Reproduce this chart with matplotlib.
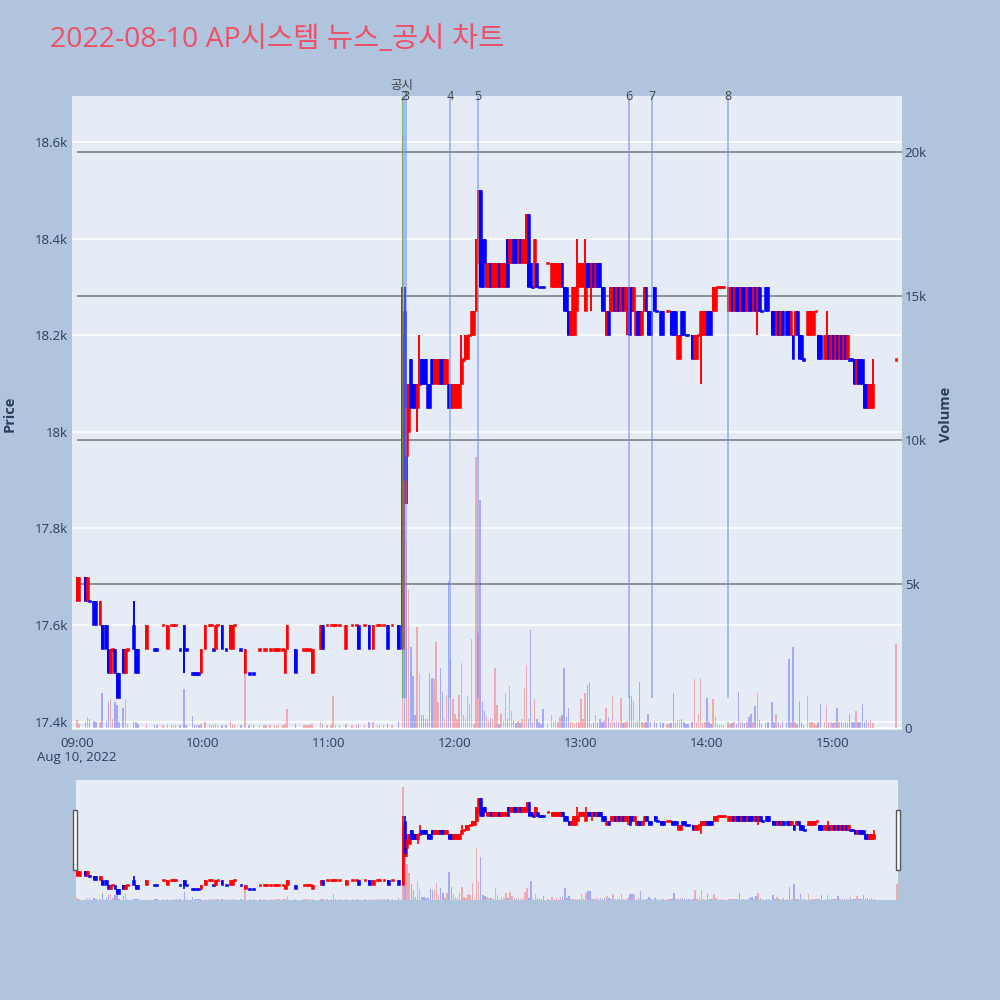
import numpy as np
import matplotlib.pyplot as plt
from matplotlib.patches import Rectangle
from matplotlib.ticker import FuncFormatter
import matplotlib.transforms as mtransforms

plt.rcParams['font.family'] = ['Open Sans', 'Noto Sans CJK KR', 'DejaVu Sans']

# ---- 1-minute candles, minute = minutes after 09:00 ----
am_minute = [0, 1, 4, 5, 6, 8, 9, 11, 12, 14,
             15, 16, 17, 18, 19, 20, 22, 23, 24, 27,
             28, 29, 33, 37, 38, 41, 43, 45, 46, 47,
             49, 51, 52, 55, 56, 57, 58, 59, 61, 63,
             64, 65, 66, 67, 69, 71, 73, 74, 75, 78,
             80, 82, 84, 87, 89, 90, 92, 94, 95, 96,
             98, 99, 100, 104, 108, 109, 110, 111, 112, 116,
             117, 119, 121, 122, 123, 125, 128, 131, 133, 134,
             137, 139, 141, 143, 144, 146, 148, 150, 153]
am_open = [17650, 17650, 17700, 17650, 17650, 17650, 17650, 17600, 17600, 17600,
           17550, 17500, 17550, 17550, 17500, 17500, 17550, 17500, 17550, 17600,
           17550, 17550, 17550, 17550, 17550, 17600, 17550, 17600, 17600, 17600,
           17550, 17600, 17550, 17500, 17500, 17500, 17500, 17500, 17550, 17600,
           17600, 17550, 17550, 17600, 17600, 17550, 17550, 17550, 17600, 17550,
           17500, 17500, 17500, 17550, 17550, 17550, 17550, 17550, 17550, 17550,
           17550, 17500, 17550, 17550, 17550, 17550, 17550, 17550, 17500, 17550,
           17600, 17600, 17600, 17600, 17600, 17600, 17550, 17600, 17600, 17600,
           17600, 17600, 17550, 17600, 17600, 17600, 17600, 17600, 17600]
am_high = [17700, 17700, 17700, 17700, 17650, 17650, 17650, 17650, 17600, 17600,
           17550, 17550, 17550, 17550, 17500, 17500, 17550, 17550, 17550, 17650,
           17550, 17550, 17600, 17550, 17550, 17600, 17600, 17600, 17600, 17600,
           17550, 17600, 17550, 17500, 17500, 17500, 17500, 17550, 17600, 17600,
           17600, 17550, 17600, 17600, 17600, 17550, 17600, 17600, 17600, 17550,
           17550, 17500, 17500, 17550, 17550, 17550, 17550, 17550, 17550, 17550,
           17550, 17550, 17600, 17550, 17550, 17550, 17550, 17550, 17550, 17600,
           17600, 17600, 17600, 17600, 17600, 17600, 17600, 17600, 17600, 17600,
           17600, 17600, 17600, 17600, 17600, 17600, 17600, 17600, 17600]
am_low = [17650, 17650, 17650, 17650, 17650, 17600, 17600, 17600, 17550, 17550,
          17500, 17500, 17550, 17500, 17450, 17450, 17500, 17500, 17550, 17550,
          17500, 17500, 17550, 17550, 17550, 17600, 17550, 17600, 17600, 17600,
          17550, 17500, 17550, 17500, 17500, 17500, 17500, 17500, 17550, 17600,
          17600, 17550, 17550, 17600, 17550, 17550, 17550, 17550, 17600, 17550,
          17500, 17500, 17500, 17550, 17550, 17550, 17550, 17550, 17550, 17550,
          17550, 17500, 17550, 17500, 17550, 17550, 17550, 17550, 17500, 17550,
          17550, 17600, 17600, 17600, 17600, 17600, 17550, 17600, 17600, 17550,
          17600, 17550, 17550, 17600, 17600, 17600, 17550, 17600, 17550]
am_close = [17700, 17700, 17650, 17700, 17650, 17600, 17600, 17650, 17550, 17550,
            17500, 17550, 17550, 17500, 17450, 17450, 17500, 17550, 17550, 17550,
            17500, 17500, 17600, 17550, 17550, 17600, 17600, 17600, 17600, 17600,
            17550, 17550, 17550, 17500, 17500, 17500, 17500, 17550, 17600, 17600,
            17600, 17550, 17600, 17600, 17550, 17550, 17600, 17600, 17600, 17550,
            17550, 17500, 17500, 17550, 17550, 17550, 17550, 17550, 17550, 17550,
            17550, 17550, 17600, 17500, 17550, 17550, 17550, 17550, 17550, 17600,
            17550, 17600, 17600, 17600, 17600, 17600, 17600, 17600, 17600, 17550,
            17600, 17550, 17600, 17600, 17600, 17600, 17550, 17600, 17550]
am_volume = [280, 150, 200, 380, 300, 250, 200, 200, 1200, 250,
             900, 1000, 300, 900, 800, 200, 700, 1000, 150, 200,
             200, 150, 150, 100, 100, 100, 150, 100, 100, 100,
             100, 1350, 120, 400, 100, 100, 100, 150, 200, 100,
             100, 100, 150, 100, 120, 100, 200, 150, 100, 100,
             2000, 100, 100, 100, 100, 100, 100, 100, 100, 100,
             100, 150, 650, 150, 100, 100, 100, 100, 150, 200,
             150, 100, 100, 1100, 100, 100, 150, 100, 100, 150,
             100, 200, 200, 100, 100, 100, 150, 100, 250]

mid_minute = [155, 156, 157, 158, 159, 160, 161, 162, 163, 164,
              165, 166, 167, 168, 169, 170, 171, 172, 173, 174,
              175, 176, 177, 178, 179, 180, 181, 182, 183, 184,
              185, 186, 187, 188, 189, 190, 191, 192, 193, 194,
              195, 196, 197, 198, 199, 200, 201, 202, 203, 204,
              205, 206, 207, 208, 209, 210, 211, 212, 213, 214,
              215, 216, 217, 218, 219, 220, 221, 222, 224, 226,
              227, 228, 229, 230, 231, 232, 233, 234, 235, 236,
              237, 238, 239, 240, 241, 242, 243, 244]
mid_open = [17550, 18250, 17950, 18000, 18150, 18100, 18100, 18050, 18100, 18150,
            18150, 18150, 18100, 18100, 18150, 18100, 18100, 18100, 18150, 18150,
            18100, 18100, 18100, 18100, 18050, 18050, 18050, 18050, 18100, 18150,
            18150, 18150, 18200, 18200, 18200, 18250, 18350, 18500, 18400, 18400,
            18300, 18300, 18350, 18300, 18300, 18300, 18350, 18300, 18300, 18300,
            18400, 18350, 18350, 18400, 18400, 18350, 18400, 18350, 18350, 18350,
            18450, 18350, 18300, 18300, 18350, 18300, 18300, 18300, 18350, 18300,
            18300, 18300, 18300, 18300, 18350, 18300, 18300, 18250, 18200, 18200,
            18200, 18250, 18300, 18300, 18300, 18250, 18350, 18350]
mid_high = [18300, 18300, 18100, 18100, 18150, 18100, 18100, 18100, 18200, 18150,
            18150, 18150, 18100, 18100, 18150, 18150, 18150, 18150, 18150, 18150,
            18150, 18150, 18100, 18100, 18100, 18100, 18100, 18100, 18200, 18150,
            18200, 18200, 18200, 18250, 18250, 18400, 18500, 18500, 18400, 18400,
            18350, 18350, 18350, 18350, 18350, 18350, 18350, 18350, 18350, 18350,
            18400, 18400, 18400, 18400, 18400, 18400, 18400, 18400, 18400, 18450,
            18450, 18350, 18300, 18400, 18350, 18300, 18300, 18300, 18350, 18350,
            18350, 18350, 18350, 18350, 18350, 18300, 18300, 18250, 18250, 18300,
            18300, 18400, 18350, 18350, 18350, 18400, 18350, 18350]
mid_low = [17550, 17850, 17850, 18000, 18050, 18050, 18050, 18000, 18100, 18100,
           18100, 18100, 18050, 18050, 18100, 18100, 18100, 18100, 18100, 18100,
           18100, 18100, 18050, 18050, 18050, 18050, 18050, 18050, 18100, 18150,
           18150, 18150, 18200, 18200, 18200, 18250, 18350, 18300, 18300, 18350,
           18300, 18300, 18300, 18300, 18300, 18300, 18300, 18300, 18300, 18300,
           18300, 18350, 18350, 18350, 18350, 18350, 18350, 18350, 18350, 18350,
           18300, 18300, 18300, 18300, 18300, 18300, 18300, 18300, 18350, 18300,
           18300, 18300, 18300, 18300, 18300, 18250, 18250, 18200, 18200, 18200,
           18200, 18250, 18300, 18300, 18300, 18250, 18300, 18300]
mid_close = [18200, 17900, 18050, 18100, 18050, 18050, 18050, 18100, 18100, 18100,
             18100, 18100, 18050, 18050, 18100, 18150, 18150, 18150, 18100, 18100,
             18150, 18150, 18050, 18050, 18100, 18100, 18100, 18100, 18150, 18150,
             18200, 18200, 18200, 18250, 18250, 18400, 18500, 18300, 18300, 18350,
             18350, 18350, 18300, 18350, 18350, 18350, 18300, 18350, 18350, 18350,
             18300, 18400, 18400, 18350, 18350, 18400, 18350, 18400, 18400, 18450,
             18300, 18300, 18300, 18400, 18300, 18300, 18300, 18300, 18350, 18350,
             18350, 18350, 18350, 18350, 18300, 18250, 18250, 18200, 18250, 18300,
             18300, 18300, 18350, 18350, 18350, 18300, 18300, 18300]
mid_volume = [20600, 7800, 6500, 4800, 2800, 1800, 450, 3500, 1900, 450,
              450, 300, 300, 1900, 1750, 1700, 3000, 900, 2100, 1250,
              300, 1150, 5100, 2400, 1000, 500, 300, 1150, 2250, 450,
              300, 1100, 850, 3100, 150, 9400, 3300, 7900, 900, 600,
              400, 250, 350, 300, 2100, 800, 150, 500, 250, 1200,
              300, 1450, 600, 250, 180, 250, 170, 300, 1400, 2200,
              300, 3400, 200, 1000, 300, 200, 150, 650, 150, 450,
              200, 250, 200, 380, 450, 2100, 380, 700, 200, 200,
              150, 200, 200, 1000, 300, 1200, 1500, 1600]

pm_minute = [245, 246, 247, 248, 249, 250, 251, 252, 253, 254,
             255, 256, 257, 258, 259, 260, 261, 262, 263, 264,
             265, 266, 267, 268, 269, 270, 271, 272, 273, 275,
             276, 278, 279, 281, 282, 283, 284, 285, 286, 287,
             288, 289, 290, 291, 293, 294, 295, 296, 297, 298,
             299, 300, 301, 302, 303, 304, 305, 306, 307, 308,
             310, 311, 312, 313, 314, 315, 316, 317, 318, 319,
             320, 321, 322, 323, 324, 325, 326, 328, 329, 331,
             332, 333, 334, 335, 336, 338, 339, 340, 341, 342,
             343, 344, 345, 346, 348, 349, 350, 351, 352, 353,
             354, 356, 357, 358, 359, 360, 361, 362, 363, 364,
             365, 366, 367, 368, 369, 370, 371, 372, 373, 374,
             375, 376, 377, 378, 379, 390]
pm_open = [18300, 18350, 18300, 18350, 18350, 18300, 18300, 18200, 18250, 18250,
           18250, 18300, 18250, 18300, 18250, 18300, 18250, 18250, 18300, 18300,
           18250, 18200, 18250, 18250, 18200, 18250, 18300, 18250, 18250, 18300,
           18250, 18250, 18250, 18250, 18250, 18250, 18250, 18250, 18150, 18150,
           18250, 18250, 18200, 18200, 18200, 18150, 18150, 18200, 18200, 18200,
           18200, 18250, 18250, 18250, 18250, 18250, 18300, 18300, 18300, 18300,
           18250, 18250, 18300, 18250, 18300, 18300, 18250, 18300, 18300, 18250,
           18300, 18300, 18250, 18300, 18250, 18300, 18250, 18300, 18300, 18250,
           18250, 18200, 18250, 18200, 18250, 18250, 18250, 18200, 18200, 18200,
           18250, 18200, 18200, 18150, 18200, 18200, 18200, 18200, 18250, 18200,
           18200, 18150, 18150, 18200, 18150, 18200, 18150, 18200, 18150, 18200,
           18150, 18200, 18150, 18150, 18150, 18150, 18100, 18150, 18150, 18150,
           18100, 18100, 18050, 18050, 18050, 18150]
pm_high = [18350, 18350, 18350, 18350, 18350, 18300, 18300, 18250, 18250, 18300,
           18300, 18300, 18300, 18300, 18300, 18300, 18300, 18300, 18300, 18300,
           18300, 18250, 18250, 18250, 18250, 18300, 18300, 18250, 18250, 18300,
           18250, 18250, 18250, 18250, 18250, 18250, 18250, 18250, 18200, 18200,
           18250, 18250, 18200, 18200, 18200, 18200, 18200, 18200, 18250, 18250,
           18250, 18250, 18250, 18250, 18300, 18300, 18300, 18300, 18300, 18300,
           18300, 18300, 18300, 18300, 18300, 18300, 18300, 18300, 18300, 18300,
           18300, 18300, 18300, 18300, 18300, 18300, 18250, 18300, 18300, 18250,
           18250, 18250, 18250, 18250, 18250, 18250, 18250, 18250, 18200, 18250,
           18250, 18200, 18200, 18150, 18250, 18250, 18250, 18250, 18250, 18200,
           18200, 18200, 18250, 18200, 18200, 18200, 18200, 18200, 18200, 18200,
           18200, 18200, 18200, 18150, 18150, 18150, 18150, 18150, 18150, 18150,
           18100, 18100, 18100, 18100, 18150, 18150]
pm_low = [18250, 18300, 18300, 18300, 18300, 18250, 18250, 18200, 18200, 18250,
          18250, 18250, 18250, 18250, 18250, 18250, 18250, 18200, 18200, 18250,
          18250, 18200, 18200, 18200, 18200, 18250, 18250, 18200, 18200, 18250,
          18250, 18200, 18200, 18250, 18250, 18200, 18200, 18200, 18150, 18150,
          18200, 18200, 18200, 18200, 18150, 18150, 18150, 18200, 18100, 18200,
          18200, 18200, 18200, 18200, 18250, 18250, 18300, 18300, 18300, 18300,
          18250, 18250, 18250, 18250, 18250, 18250, 18250, 18250, 18250, 18250,
          18250, 18250, 18250, 18250, 18200, 18250, 18250, 18250, 18250, 18200,
          18200, 18200, 18200, 18200, 18200, 18200, 18200, 18200, 18150, 18200,
          18200, 18150, 18150, 18150, 18200, 18200, 18200, 18200, 18250, 18150,
          18150, 18150, 18150, 18150, 18150, 18150, 18150, 18150, 18150, 18150,
          18150, 18150, 18150, 18150, 18150, 18100, 18100, 18100, 18100, 18100,
          18050, 18050, 18050, 18050, 18050, 18150]
pm_close = [18350, 18300, 18350, 18300, 18300, 18250, 18250, 18250, 18200, 18300,
            18300, 18250, 18300, 18250, 18300, 18250, 18300, 18300, 18200, 18250,
            18300, 18250, 18200, 18200, 18250, 18300, 18250, 18200, 18200, 18250,
            18250, 18200, 18200, 18250, 18250, 18200, 18200, 18200, 18200, 18200,
            18200, 18200, 18200, 18200, 18150, 18200, 18200, 18200, 18250, 18250,
            18250, 18200, 18200, 18200, 18300, 18300, 18300, 18300, 18300, 18300,
            18300, 18300, 18250, 18300, 18250, 18250, 18300, 18250, 18250, 18300,
            18250, 18250, 18300, 18250, 18300, 18250, 18250, 18250, 18250, 18200,
            18200, 18250, 18200, 18250, 18200, 18200, 18200, 18250, 18150, 18250,
            18200, 18150, 18150, 18150, 18250, 18250, 18250, 18250, 18250, 18150,
            18150, 18200, 18200, 18150, 18200, 18150, 18200, 18150, 18200, 18150,
            18200, 18150, 18200, 18150, 18150, 18100, 18150, 18100, 18100, 18100,
            18050, 18050, 18100, 18100, 18100, 18150]
pm_volume = [150, 200, 450, 200, 300, 200, 250, 700, 380, 200,
             1100, 200, 250, 200, 1050, 170, 200, 250, 1100, 1100,
             950, 200, 250, 1600, 200, 170, 200, 500, 200, 250,
             170, 200, 170, 150, 150, 170, 1200, 200, 270, 280,
             300, 200, 150, 150, 200, 1700, 200, 500, 1750, 200,
             200, 1050, 200, 150, 1000, 380, 150, 100, 100, 100,
             200, 150, 170, 200, 150, 1250, 200, 200, 170, 200,
             380, 500, 200, 750, 1200, 280, 150, 170, 200, 900,
             200, 500, 200, 150, 250, 200, 2400, 200, 2800, 200,
             150, 950, 200, 100, 1100, 200, 200, 170, 100, 200,
             850, 200, 800, 200, 200, 170, 200, 700, 200, 200,
             170, 200, 200, 500, 200, 200, 600, 200, 200, 850,
             200, 280, 200, 280, 170, 2900]

# news markers (minutes after 09:00) and labels
news_minute = [154.8, 155.7, 156.5, 177.6, 190.9, 262.9, 273.8, 310.0]
news_label = ["공시", "2", "3", "4", "5", "6", "7", "8"]

hour_ticks = [0, 60, 120, 180, 240, 300, 360]
hour_labels = ["09:00", "10:00", "11:00", "12:00", "13:00", "14:00", "15:00"]

x = np.array(am_minute + mid_minute + pm_minute, dtype=float)
o = np.array(am_open + mid_open + pm_open, dtype=float)
h = np.array(am_high + mid_high + pm_high, dtype=float)
l = np.array(am_low + mid_low + pm_low, dtype=float)
c = np.array(am_close + mid_close + pm_close, dtype=float)
v = np.array(am_volume + mid_volume + pm_volume, dtype=float)

RED = "#FF0000"
BLUE = "#0000FF"
BG = "#B0C4DE"
PLOT_BG = "#E5ECF6"
TXT = "#2a3f5f"

# direction: ties decided by previous close
up = []
prev_c, prev_up = None, True
for oo, cc in zip(o, c):
    if cc > oo:
        d = True
    elif cc < oo:
        d = False
    elif prev_c is None or cc == prev_c:
        d = prev_up
    else:
        d = cc > prev_c
    up.append(d)
    prev_c, prev_up = cc, d
up = np.array(up)
colors = np.where(up, RED, BLUE)

P_LIM = (17383, 18695)
V_LIM = (-69, 21944)


def draw_candles(ax, body_w, wick_lw, min_h):
    ax.vlines(x, l, h, colors=colors, lw=wick_lw, zorder=3)
    height = np.maximum(np.abs(c - o), min_h)
    bottom = np.where(c == o, o - min_h / 2, np.minimum(o, c))
    ax.bar(x, height, width=body_w, bottom=bottom, color=colors,
           edgecolor=colors, linewidth=0.4, zorder=3)


def draw_volume(axv, width):
    axv.bar(x, v, width=width, color=colors, alpha=0.28, linewidth=0)


fig = plt.figure(figsize=(10, 10), dpi=100, facecolor=BG)

# ---- main chart ----
ax_v = fig.add_axes([0.072, 0.270, 0.830, 0.634])
ax = ax_v.twinx()
ax.yaxis.tick_left()
ax.yaxis.set_label_position("left")
ax_v.yaxis.tick_right()
ax_v.yaxis.set_label_position("right")
ax_v.set_facecolor(PLOT_BG)
ax.patch.set_visible(False)

xlim = (-2.38, 392.9)
ax.set_xlim(*xlim)
ax_v.set_xlim(*xlim)
ax.set_ylim(*P_LIM)
ax_v.set_ylim(*V_LIM)

for yv in range(17400, 18601, 200):
    ax_v.axhline(np.interp(yv, P_LIM, V_LIM), color="white", lw=1.2, zorder=0)
ax_v.axhline(0, color="white", lw=1.5, zorder=0)
ax_v.hlines([5000, 10000, 15000, 20000], 0, xlim[1], colors="#8a8a8a", lw=1.3, zorder=1)

draw_volume(ax_v, 0.7)
draw_candles(ax, 1.3, 1.4, 5)

# news lines
for nm, lab in zip(news_minute, news_label):
    col = "#4caf50" if lab == "공시" else "#6f8ff0"
    lw = 0.9 if lab == "공시" else 1.1
    ax.vlines(nm, 17450, P_LIM[1], colors=col, lw=lw, alpha=0.7, zorder=4)
trans = mtransforms.blended_transform_factory(ax.transData, ax.transAxes)
for nm, lab in zip(news_minute, news_label):
    yy = 1.016 if lab == "공시" else 0.999
    ax.text(nm, yy, lab, transform=trans, ha="center", va="center",
            fontsize=9, color="#444444", zorder=6, clip_on=False)

ax.set_yticks(range(17400, 18601, 200))
ax.yaxis.set_major_formatter(FuncFormatter(lambda val, pos: f"{val / 1000:g}k"))
ax_v.set_yticks([0, 5000, 10000, 15000, 20000])
ax_v.yaxis.set_major_formatter(FuncFormatter(lambda val, pos: "0" if val == 0 else f"{val / 1000:g}k"))
ax_v.set_xticks(hour_ticks)
ax_v.set_xticklabels(hour_labels)
ax.tick_params(axis="y", length=0, pad=3, labelsize=9.5, labelcolor=TXT)
ax_v.tick_params(axis="y", length=0, pad=2, labelsize=9.5, labelcolor=TXT)
ax_v.tick_params(axis="x", length=0, pad=5, labelsize=9.5, labelcolor=TXT)
ax.tick_params(axis="x", length=0, labelbottom=False)
for a in (ax, ax_v):
    for s in a.spines.values():
        s.set_visible(False)

fig.text(0.077, 1 - 0.757, "Aug 10, 2022", ha="center", va="center", fontsize=9.5, color=TXT)
fig.text(0.010, 1 - 0.414, "Price", rotation=90, ha="center", va="center",
         fontsize=10.5, fontweight="bold", color=TXT)
fig.text(0.946, 1 - 0.414, "Volume", rotation=90, ha="center", va="center",
         fontsize=10.5, fontweight="bold", color=TXT)
fig.text(0.050, 1 - 0.040, "2022-08-10 AP시스템 뉴스_공시 차트", ha="left", va="center",
         fontsize=20.5, color="#EE5068")

# ---- range slider ----
rs_v = fig.add_axes([0.076, 0.100, 0.822, 0.120])
rs = rs_v.twinx()
rs_v.set_facecolor(PLOT_BG)
rs.patch.set_visible(False)
for a in (rs, rs_v):
    a.set_xlim(-0.5, 390.5)
    a.set_xticks([])
    a.set_yticks([])
    for s in a.spines.values():
        s.set_visible(False)
rs.set_ylim(*P_LIM)
rs_v.set_ylim(*V_LIM)
draw_volume(rs_v, 0.7)
draw_candles(rs, 1.3, 1.2, 22)

for hx in (0.073, 0.896):
    fig.patches.append(Rectangle((hx, 1 - 0.870), 0.004, 0.060, transform=fig.transFigure,
                                 facecolor="white", edgecolor="#555555", lw=1))

fig.savefig("out.png", dpi=100, facecolor=BG)
